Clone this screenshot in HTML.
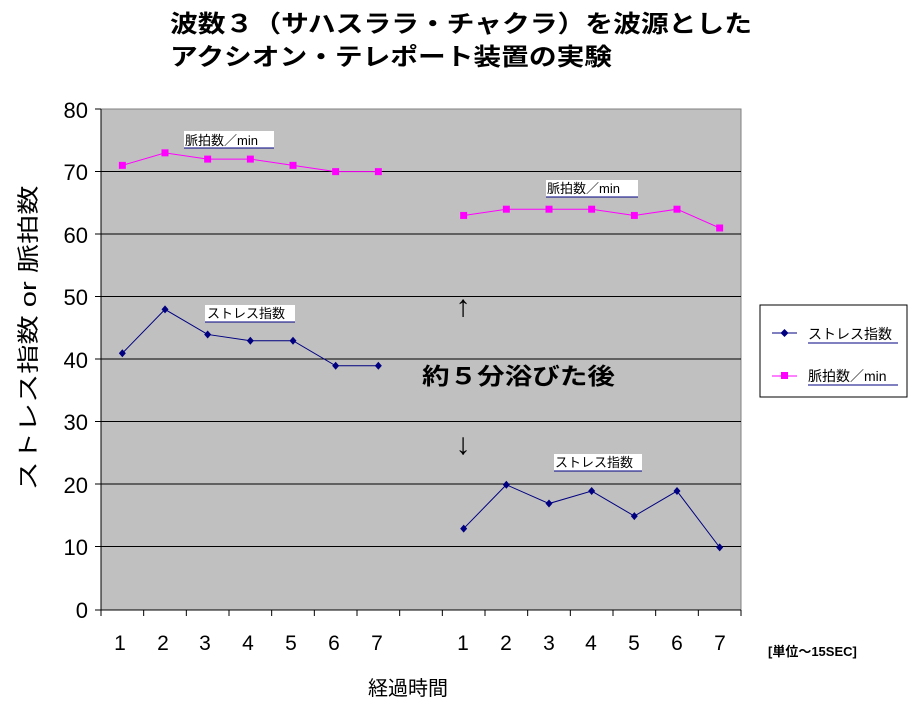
<!DOCTYPE html>
<html><head><meta charset="utf-8"><style>
body{margin:0;background:#fff;width:922px;height:719px;overflow:hidden}
svg{font-family:"Liberation Sans","Noto Sans CJK JP",sans-serif}
</style></head><body>
<svg width="922" height="719" xmlns="http://www.w3.org/2000/svg">
<text x="170" y="32" font-size="24" font-weight="bold" fill="#000" textLength="582" lengthAdjust="spacingAndGlyphs">波数３（サハスララ・チャクラ）を波源とした</text>
<text x="170" y="65" font-size="24" font-weight="bold" fill="#000" textLength="442" lengthAdjust="spacingAndGlyphs">アクシオン・テレポート装置の実験</text>
<rect x="101" y="109" width="640" height="501" fill="#c0c0c0" stroke="#808080"/>
<g stroke="#000" stroke-width="1">
<line x1="101" y1="171.5" x2="741" y2="171.5"/>
<line x1="101" y1="234" x2="741" y2="234"/>
<line x1="101" y1="296.5" x2="741" y2="296.5"/>
<line x1="101" y1="359" x2="741" y2="359"/>
<line x1="101" y1="421.5" x2="741" y2="421.5"/>
<line x1="101" y1="484" x2="741" y2="484"/>
<line x1="101" y1="546.5" x2="741" y2="546.5"/>
<line x1="101" y1="109" x2="101" y2="610"/>
<line x1="101" y1="610" x2="741" y2="610"/>
<line x1="95" y1="109" x2="101" y2="109"/><line x1="95" y1="171.5" x2="101" y2="171.5"/><line x1="95" y1="234" x2="101" y2="234"/><line x1="95" y1="296.5" x2="101" y2="296.5"/><line x1="95" y1="359" x2="101" y2="359"/><line x1="95" y1="421.5" x2="101" y2="421.5"/><line x1="95" y1="484" x2="101" y2="484"/><line x1="95" y1="546.5" x2="101" y2="546.5"/><line x1="95" y1="610" x2="101" y2="610"/>
</g>
<g stroke="#000" id="xt"></g>
<g font-size="22" text-anchor="end" fill="#000">
<text x="88" y="118">80</text><text x="88" y="180">70</text><text x="88" y="243">60</text><text x="88" y="305">50</text><text x="88" y="368">40</text><text x="88" y="430">30</text><text x="88" y="493">20</text><text x="88" y="555">10</text><text x="88" y="618">0</text>
</g>
<g font-size="21" text-anchor="middle" fill="#000">
<text x="120" y="650">1</text><text x="163" y="650">2</text><text x="205" y="650">3</text><text x="248" y="650">4</text><text x="291" y="650">5</text><text x="334" y="650">6</text><text x="377" y="650">7</text>
<text x="463" y="650">1</text><text x="506" y="650">2</text><text x="549" y="650">3</text><text x="591" y="650">4</text><text x="634" y="650">5</text><text x="677" y="650">6</text><text x="720" y="650">7</text>
</g>
<text x="408" y="695" font-size="20" text-anchor="middle">経過時間</text>
<text x="768" y="656" font-size="13" font-weight="bold">[単位～15SEC]</text>
<text transform="translate(36,338) rotate(-90)" font-size="22" text-anchor="middle" textLength="305" lengthAdjust="spacingAndGlyphs">ストレス指数 or 脈拍数</text>
<g id="series"></g>
<text x="422" y="384" font-size="23" font-weight="bold" textLength="193" lengthAdjust="spacingAndGlyphs">約５分浴びた後</text>
<text x="463" y="316" font-size="30" text-anchor="middle">↑</text>
<text x="463" y="454" font-size="30" text-anchor="middle">↓</text>
<g font-size="13">
<rect x="184" y="131" width="90" height="17" fill="#fff"/><text x="185" y="145">脈拍数／min</text><line x1="184" y1="148" x2="274" y2="148" stroke="#000080"/>
<rect x="205" y="305" width="90" height="17" fill="#fff"/><text x="207" y="318">ストレス指数</text><line x1="205" y1="322" x2="295" y2="322" stroke="#000080"/>
<rect x="546" y="180" width="92" height="17" fill="#fff"/><text x="547" y="193">脈拍数／min</text><line x1="546" y1="197" x2="638" y2="197" stroke="#000080"/>
<rect x="554" y="454" width="88" height="17" fill="#fff"/><text x="555" y="467">ストレス指数</text><line x1="554" y1="471" x2="642" y2="471" stroke="#000080"/>
</g>
<rect x="760" y="305" width="147" height="92" fill="#fff" stroke="#000"/>
<line x1="772" y1="333" x2="797" y2="333" stroke="#000080"/><path d="M784.5 329 L788.5 333 L784.5 337 L780.5 333Z" fill="#000080"/>
<text x="808" y="339" font-size="14">ストレス指数</text><line x1="808" y1="343" x2="898" y2="343" stroke="#000080"/>
<line x1="772" y1="376" x2="797" y2="376" stroke="#f0f"/><rect x="781" y="372" width="7" height="7" fill="#f0f"/>
<text x="808" y="381" font-size="14">脈拍数／min</text><line x1="808" y1="385" x2="898" y2="385" stroke="#000080"/>
<script>
var ns="http://www.w3.org/2000/svg";
var xt=document.getElementById("xt");
for(var k=0;k<=15;k++){var X=101+k*640/15;var l=document.createElementNS(ns,"line");l.setAttribute("x1",X);l.setAttribute("x2",X);l.setAttribute("y1",610);l.setAttribute("y2",616);xt.appendChild(l);}
function px(i){return 101+(i+0.5)*640/15;}
function py(v){return 610-v*6.2625;}
var g=document.getElementById("series");
function series(idx,vals,col,mk){
 var pts=idx.map(function(i,j){return px(i)+","+py(vals[j]);}).join(" ");
 var p=document.createElementNS(ns,"polyline");p.setAttribute("points",pts);p.setAttribute("fill","none");p.setAttribute("stroke",col);g.appendChild(p);
 idx.forEach(function(i,j){var x=px(i),y=py(vals[j]);var m;
  if(mk=="sq"){m=document.createElementNS(ns,"rect");m.setAttribute("x",x-3.5);m.setAttribute("y",y-3.5);m.setAttribute("width",7);m.setAttribute("height",7);}
  else{m=document.createElementNS(ns,"path");m.setAttribute("d","M"+x+" "+(y-4)+"L"+(x+3.5)+" "+y+"L"+x+" "+(y+4)+"L"+(x-3.5)+" "+y+"Z");}
  m.setAttribute("fill",col);g.appendChild(m);});
}
var a=[0,1,2,3,4,5,6],b=[8,9,10,11,12,13,14];
series(a,[71,73,72,72,71,70,70],"#ff00ff","sq");
series(b,[63,64,64,64,63,64,61],"#ff00ff","sq");
series(a,[41,48,44,43,43,39,39],"#000080","d");
series(b,[13,20,17,19,15,19,10],"#000080","d");
</script>
</svg>
</body></html>
